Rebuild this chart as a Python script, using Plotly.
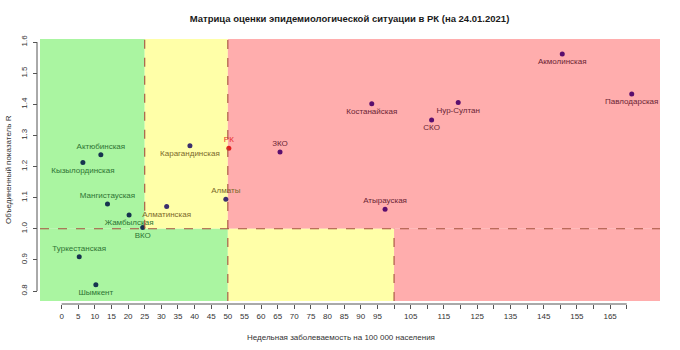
import plotly.graph_objects as go

# ---------------- data ----------------
regions = ["Акмолинская", "Павлодарская", "Костанайская", "Нур-Султан", "СКО", "ЗКО", "РК",
           "Карагандинская", "Актюбинская", "Кызылординская", "Алматы", "Мангистауская",
           "Алматинская", "Жамбылская", "ВКО", "Атырауская", "Туркестанская", "Шымкент"]
incidence = [150.6, 171.5, 93.3, 119.3, 111.3, 65.7, 50.3,
             38.6, 11.8, 6.4, 49.4, 13.8,
             31.6, 20.3, 24.4, 97.3, 5.3, 10.3]
r_index = [1.562, 1.433, 1.402, 1.406, 1.350, 1.247, 1.259,
           1.267, 1.238, 1.213, 1.095, 1.080,
           1.072, 1.044, 1.004, 1.063, 0.910, 0.820]
label_side = ["below", "below", "below", "below", "below", "above", "above",
              "below", "above", "below", "above", "above",
              "below", "below", "below", "above", "above", "below"]

x_ticks = list(range(0, 175, 5))
x_tick_labels = [str(v) if (v < 100 or v % 10 == 5) else "" for v in x_ticks]
y_ticks = [0.8, 0.9, 1.0, 1.1, 1.2, 1.3, 1.4, 1.5, 1.6]
y_tick_labels = ["0.8", "0.9", "1.0", "1.1", "1.2", "1.3", "1.4", "1.5", "1.6"]

r_threshold = 1.0
upper_bounds = [25, 50]    # incidence thresholds when R >= 1
lower_bounds = [50, 100]   # incidence thresholds when R < 1

title = "Матрица оценки эпидемиологической ситуации в РК (на 24.01.2021)"
x_title = "Недельная заболеваемость на 100 000 населения"
y_title = "Объединенный показатель R"

# ---------------- style ----------------
XR = [-6.5, 180.0]
YR = [0.768, 1.61]
GREEN, YELLOW, RED = "#AAF5A1", "#FFFFA8", "#FFADAD"
DASH_COL = "#A5503C"
FONT = "Liberation Sans, Arial, sans-serif"
text_cols = {"g": "#2E7434", "y": "#7C6A2A", "r": "#6A2434"}
dot_cols = {"g": "#16334F", "y": "#3B2F6E", "r": "#5A0E6E"}


def zone(x, y):
    b = upper_bounds if y >= r_threshold else lower_bounds
    if x < b[0]:
        return "g"
    if x < b[1]:
        return "y"
    return "r"


zones = [zone(x, y) for x, y in zip(incidence, r_index)]
tcols = ["#E8312E" if n == "РК" else text_cols[z] for n, z in zip(regions, zones)]
dcols = ["#E0201E" if n == "РК" else dot_cols[z] for n, z in zip(regions, zones)]
tpos = ["top center" if s == "above" else "bottom center" for s in label_side]

fig = go.Figure()
fig.add_trace(go.Scatter(
    x=incidence, y=r_index, mode="markers+text", text=regions,
    textposition=tpos, textfont=dict(family=FONT, size=8, color=tcols),
    marker=dict(size=5, color=dcols), cliponaxis=False, hoverinfo="skip",
    showlegend=False))

shapes = []
# zone backgrounds
shapes += [
    dict(type="rect", x0=XR[0], x1=upper_bounds[0], y0=r_threshold, y1=YR[1], fillcolor=GREEN),
    dict(type="rect", x0=upper_bounds[0], x1=upper_bounds[1], y0=r_threshold, y1=YR[1], fillcolor=YELLOW),
    dict(type="rect", x0=upper_bounds[1], x1=XR[1], y0=r_threshold, y1=YR[1], fillcolor=RED),
    dict(type="rect", x0=XR[0], x1=lower_bounds[0], y0=YR[0], y1=r_threshold, fillcolor=GREEN),
    dict(type="rect", x0=lower_bounds[0], x1=lower_bounds[1], y0=YR[0], y1=r_threshold, fillcolor=YELLOW),
    dict(type="rect", x0=lower_bounds[1], x1=XR[1], y0=YR[0], y1=r_threshold, fillcolor=RED),
]
for s in shapes:
    s.update(xref="x", yref="y", line=dict(width=0), layer="below")

dl = dict(color=DASH_COL, width=1.1, dash="dash")
shapes += [
    dict(type="line", xref="x", yref="y", x0=XR[0], x1=XR[1], y0=r_threshold, y1=r_threshold, line=dl),
    dict(type="line", xref="x", yref="y", x0=upper_bounds[0], x1=upper_bounds[0], y0=r_threshold, y1=YR[1], line=dl),
    dict(type="line", xref="x", yref="y", x0=upper_bounds[1], x1=upper_bounds[1], y0=YR[0], y1=YR[1], line=dl),
    dict(type="line", xref="x", yref="y", x0=lower_bounds[1], x1=lower_bounds[1], y0=YR[0], y1=r_threshold, line=dl),
]

# R-style axis lines spanning first to last tick
W_PLOT, H_PLOT = 660, 301
x_axis_pos = (340 - 304) / H_PLOT
y_axis_pos = 37 / W_PLOT
shapes += [
    dict(type="line", xref="x", yref="paper", x0=x_ticks[0], x1=x_ticks[-1],
         y0=x_axis_pos, y1=x_axis_pos, line=dict(color="#555555", width=1)),
    dict(type="line", xref="paper", yref="y", x0=y_axis_pos, x1=y_axis_pos,
         y0=y_ticks[0], y1=y_ticks[-1], line=dict(color="#555555", width=1)),
]

fig.update_layout(
    width=680, height=350,
    margin=dict(l=0, r=20, t=39, b=10),
    paper_bgcolor="white", plot_bgcolor="white",
    font=dict(family=FONT, size=8, color="#333333"),
    shapes=shapes,
    title=dict(text="<b>" + title + "</b>", x=349.5 / 680, y=1 - 19 / 350,
               xanchor="center", yanchor="middle", xref="container", yref="container",
               font=dict(family=FONT, size=9.5, color="#1a1a1a")),
    xaxis=dict(range=XR, domain=[40 / W_PLOT, 1], anchor="free", position=x_axis_pos,
               tickmode="array", tickvals=x_ticks, ticktext=x_tick_labels,
               ticks="outside", ticklen=4, tickcolor="#555555", showline=False,
               showgrid=False, zeroline=False, tickangle=0,
               tickfont=dict(size=8, color="#333333")),
    yaxis=dict(range=YR, domain=[(340 - 301) / H_PLOT, 1], anchor="free", position=y_axis_pos,
               tickmode="array", tickvals=y_ticks, ticktext=y_tick_labels,
               ticks="outside", ticklen=4, tickcolor="#555555", showline=False,
               showgrid=False, zeroline=False, tickangle=-90, ticklabelstandoff=3,
               tickfont=dict(size=8, color="#333333")),
    annotations=[
        dict(text=x_title, xref="paper", yref="paper", x=341 / W_PLOT, y=(340 - 337) / H_PLOT,
             xanchor="center", yanchor="middle", showarrow=False,
             font=dict(family=FONT, size=8, color="#333333")),
        dict(text=y_title, xref="paper", yref="paper", x=8 / W_PLOT, y=(340 - 170) / H_PLOT,
             xanchor="center", yanchor="middle", showarrow=False, textangle=-90,
             font=dict(family=FONT, size=8, color="#333333")),
    ],
)

fig.write_html("out.html")
